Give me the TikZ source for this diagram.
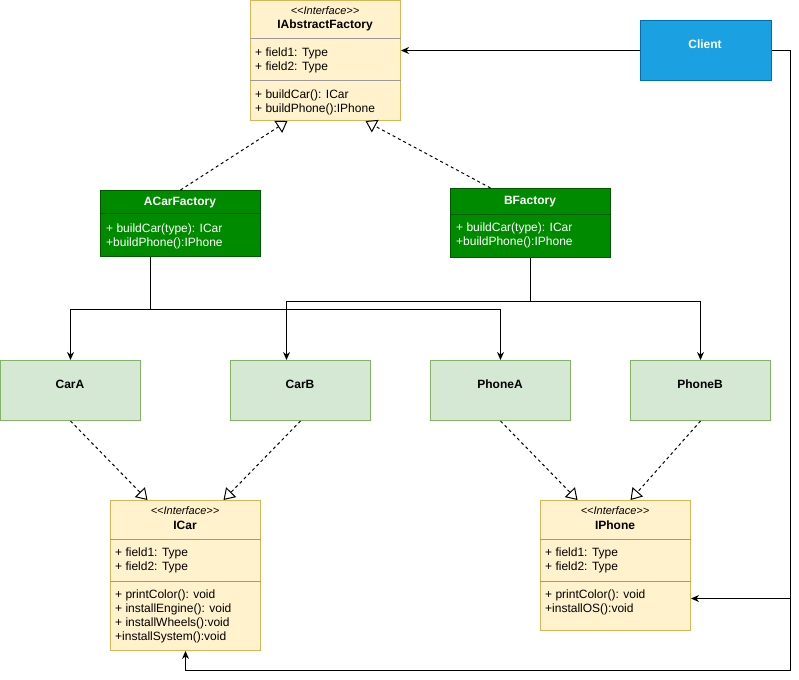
\documentclass[tikz,border=0pt]{standalone}
\usepackage{fontspec}
\setmainfont{Liberation Sans}
\usetikzlibrary{arrows.meta,positioning}
\definecolor{ifill}{HTML}{FFF2CC}
\definecolor{iline}{HTML}{D6B656}
\definecolor{gfill}{HTML}{008A00}
\definecolor{gline}{HTML}{005700}
\definecolor{lfill}{HTML}{D5E8D4}
\definecolor{lline}{HTML}{82B366}
\definecolor{cfill}{HTML}{1BA1E2}
\definecolor{cline}{HTML}{006EAF}
\definecolor{sepline}{HTML}{9A9A9A}
\begin{document}
\begin{tikzpicture}[x=1pt,y=-1pt,font=\fontsize{12}{14}\selectfont,
	iface/.style={draw=iline,fill=ifill,line width=1pt,anchor=north west,inner sep=0pt,minimum width=150pt},
	factory/.style={draw=gline,fill=gfill,line width=1pt,anchor=north west,inner sep=0pt,minimum width=160pt},
	concrete/.style={draw=lline,fill=lfill,line width=1pt,anchor=north west,inner sep=0pt,minimum width=140pt,minimum height=60pt},
	member/.style={anchor=west,inner sep=0pt},
	stereo/.style={inner sep=0pt,font=\fontsize{11}{13}\selectfont\itshape},
	title/.style={inner sep=0pt,font=\fontsize{12}{14}\selectfont\bfseries},
	sep/.style={line width=1pt},
	impl/.style={dash pattern=on 3pt off 3pt,line width=1pt,-{Triangle[open,fill=white,length=11pt,width=14pt]}},
	arr/.style={line width=1pt,-{Stealth[length=8pt,width=7pt]}}]
	\useasboundingbox (0,0) rectangle (799,679);

	% IAbstractFactory
	\node[iface,minimum height=120pt] (iaf) at (250,0) {};
	\draw[sep,draw=sepline] ([yshift=-39pt]iaf.north west) -- ([yshift=-39pt]iaf.north east);
	\draw[sep,draw=sepline] ([yshift=-81pt]iaf.north west) -- ([yshift=-81pt]iaf.north east);
	\node[stereo] (iafst) at (325,11) {{<}{<}Interface{>}{>}};
	\node[title] (iaft) at (325,25) {IAbstractFactory};
	\foreach \t [count=\i] in {+ field1: Type,+ field2: Type} {
		\node[member] (iaff\i) at (255,39+14*\i) {\t};
	}
	\foreach \t [count=\i] in {+ buildCar(): ICar,+ buildPhone():IPhone} {
		\node[member] (iafm\i) at (255,81+14*\i) {\t};
	}

	% Client
	\node[draw=cline,fill=cfill,line width=1pt,anchor=north west,minimum width=131pt,minimum height=60pt] (client) at (640,20) {};
	\node[title,text=white] (clientt) at (705,44) {Client};

	% fabryki
	\node[factory,minimum height=66pt] (acf) at (100,190) {};
	\draw[sep,draw=gline] ([yshift=-23pt]acf.north west) -- ([yshift=-23pt]acf.north east);
	\node[title,text=white] (acft) at (180,203) {ACarFactory};
	\node[member,text=white] (acfm1) at (106,229) {+ buildCar(type): ICar};
	\node[member,text=white] (acfm2) at (106,243) {+buildPhone():IPhone};

	\node[factory,minimum height=69pt] (bf) at (450,188) {};
	\draw[sep,draw=gline] ([yshift=-26pt]bf.north west) -- ([yshift=-26pt]bf.north east);
	\node[title,text=white] (bft) at (530,202) {BFactory};
	\node[member,text=white] (bfm1) at (456,228) {+ buildCar(type): ICar};
	\node[member,text=white] (bfm2) at (456,242) {+buildPhone():IPhone};

	% produkty
	\foreach \n/\x/\t in {cara/0/CarA,carb/230/CarB,phonea/430/PhoneA,phoneb/630/PhoneB} {
		\node[concrete] (\n) at (\x,360) {};
		\node[title] (\n t) at (\x+70,384) {\t};
	}

	% ICar
	\node[iface,minimum height=150pt] (icar) at (110,500) {};
	\draw[sep,draw=sepline] ([yshift=-39pt]icar.north west) -- ([yshift=-39pt]icar.north east);
	\draw[sep,draw=sepline] ([yshift=-81pt]icar.north west) -- ([yshift=-81pt]icar.north east);
	\node[stereo] (icarst) at (185,511) {{<}{<}Interface{>}{>}};
	\node[title] (icart) at (185,525) {ICar};
	\foreach \t [count=\i] in {+ field1: Type,+ field2: Type} {
		\node[member] (icarf\i) at (115,539+14*\i) {\t};
	}
	\foreach \t [count=\i] in {+ printColor(): void,+ installEngine(): void,+ installWheels():void,+installSystem():void} {
		\node[member] (icarm\i) at (115,581+14*\i) {\t};
	}

	% IPhone
	\node[iface,minimum height=130pt] (iphone) at (540,500) {};
	\draw[sep,draw=sepline] ([yshift=-39pt]iphone.north west) -- ([yshift=-39pt]iphone.north east);
	\draw[sep,draw=sepline] ([yshift=-81pt]iphone.north west) -- ([yshift=-81pt]iphone.north east);
	\node[stereo] (iphonest) at (615,511) {{<}{<}Interface{>}{>}};
	\node[title] (iphonet) at (615,525) {IPhone};
	\foreach \t [count=\i] in {+ field1: Type,+ field2: Type} {
		\node[member] (iphonef\i) at (545,539+14*\i) {\t};
	}
	\foreach \t [count=\i] in {+ printColor(): void,+installOS():void} {
		\node[member] (iphonem\i) at (545,581+14*\i) {\t};
	}

	% realizacje
	\draw[impl] (acf.north) -- ([xshift=-38pt]iaf.south);
	\draw[impl] ([xshift=-40pt]bf.north) -- ([xshift=40pt]iaf.south);
	\draw[impl] (cara.south) -- ([xshift=-38pt]icar.north);
	\draw[impl] (carb.south) -- ([xshift=38pt]icar.north);
	\draw[impl] (phonea.south) -- ([xshift=-38pt]iphone.north);
	\draw[impl] (phoneb.south) -- ([xshift=15pt]iphone.north);

	% tworzenie
	\draw[arr] ([xshift=-30pt]acf.south) -- ++(0,52) -| (cara.north);
	\draw[arr] ([xshift=-30pt]acf.south) -- ++(0,52) -| (phonea.north);
	\draw[arr] (bf.south) -- ++(0,43) -| ([xshift=-14pt]carb.north);
	\draw[arr] (bf.south) -- ++(0,43) -| (phoneb.north);

	% klient
	\coordinate (loop) at (790,670);
	\coordinate (ipin) at ([yshift=-33pt]iphone.east);
	\draw[arr] (client.west) -- (client.west -| iaf.east);
	\draw[arr] (client.east) -| (loop |- ipin) -- (ipin);
	\draw[arr] (client.east) -| (loop) -| (icar.south);
\end{tikzpicture}
\end{document}
